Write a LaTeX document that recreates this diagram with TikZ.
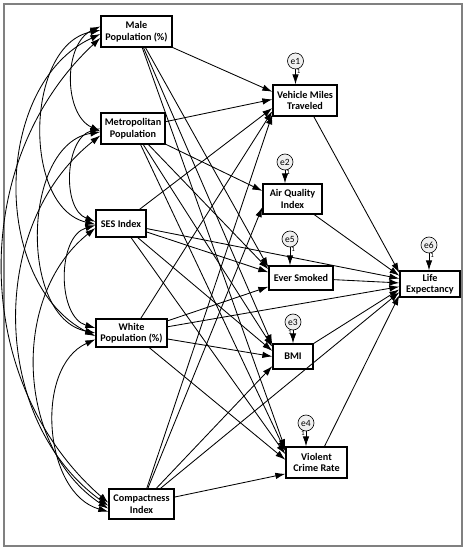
\documentclass[tikz,border=0pt]{standalone}
\usepackage{fontspec}
\setmainfont{Carlito}
\usetikzlibrary{arrows.meta}

\begin{document}
\begin{tikzpicture}[x=1pt,y=1pt,
  var/.style={draw,line width=1.3pt,fill=white,align=center,inner sep=1pt,
    font=\bfseries\fontsize{10.2}{11.5}\selectfont},
  err/.style={draw,circle,fill=gray!12,line width=0.6pt,minimum size=16pt,
    inner sep=0pt,font=\fontsize{9.5}{10}\selectfont},
  effect/.style={-{Latex[length=10pt,width=6.5pt]},line width=0.85pt},
  covar/.style={{Latex[length=10pt,width=6.5pt]}-{Latex[length=10pt,width=6.5pt]},line width=0.85pt},
  one/.style={font=\fontsize{7}{7}\selectfont,inner sep=1pt}]
  \useasboundingbox (0,0) rectangle (466,550);
  \draw[gray,line width=1.2pt] (4,4) rectangle (462,546);

  \node[var,minimum width=71pt,minimum height=31pt] (male) at (136.5,518.5) {Male\\Population (\%)};
  \node[var,minimum width=64pt,minimum height=31pt] (metro) at (133,421.5) {Metropolitan\\Population};
  \node[var,minimum width=50pt,minimum height=27pt] (ses) at (121,326.5) {SES Index};
  \node[var,minimum width=71pt,minimum height=28pt] (white) at (131.5,217) {White\\Population (\%)};
  \node[var,minimum width=65pt,minimum height=30pt] (compact) at (141.5,46) {Compactness\\Index};

  \node[var,minimum width=64pt,minimum height=31pt] (vmt) at (305,449.5) {Vehicle Miles\\Traveled};
  \node[var,minimum width=59pt,minimum height=30pt] (aqi) at (292.5,351) {Air Quality\\Index};
  \node[var,minimum width=64pt,minimum height=24pt] (smoked) at (301,272) {Ever Smoked};
  \node[var,minimum width=40pt,minimum height=25pt] (bmi) at (293,193.5) {BMI};
  \node[var,minimum width=61pt,minimum height=31pt] (violent) at (316.5,87.5) {Violent\\Crime Rate};
  \node[var,minimum width=60pt,minimum height=26pt] (life) at (430,266) {Life\\Expectancy};

  \node[err] (e1) at (295.5,489) {e1};
  \node[err] (e2) at (285,388) {e2};
  \node[err] (e5) at (290,311) {e5};
  \node[err] (e6) at (429,305) {e6};
  \node[err] (e3) at (293,228) {e3};
  \node[err] (e4) at (306,127) {e4};

  \foreach \e/\v in {e1/vmt,e2/aqi,e5/smoked,e6/life}
    \draw[effect] (\e) -- (\e |- \v.north) node[one,pos=0.12,right] {1};
  \foreach \e/\v in {e3/bmi,e4/violent}
    \draw[effect] (\e) -- (\e |- \v.north) node[one,pos=0.12,left] {1};

  \foreach \s/\t in {male/vmt.165,metro/vmt.178,ses/vmt.193,white/vmt.198,compact/vmt.203,
      metro/aqi.165,compact/aqi.195,
      male/smoked.162,metro/smoked.165,ses/smoked.170,white/smoked.195,
      male/bmi.150,metro/bmi.155,ses/bmi.165,white/bmi.180,compact/bmi.205,
      male/violent.157,metro/violent.160,ses/violent.165,white/violent.175,compact/violent.200,
      vmt/life.160,aqi/life.165,ses/life.170,smoked/life.178,white/life.185,
      bmi/life.190,compact/life.195,violent/life.200}
    \draw[effect] (\s) -- (\t);

  \foreach \a/\b/\t in {male.172/metro.185/65,male.178/ses.182/78,
      male.184/white.185/64,male.190/compact.178/48,
      metro.180/ses.176/72,metro.186/white.180/80,
      metro.192/compact.183/53,ses.184/white.172/74,
      ses.190/compact.188/54,white.190/compact.193/70}
    \draw[covar] (\a) to[bend right=\t] (\b);
\end{tikzpicture}
\end{document}
